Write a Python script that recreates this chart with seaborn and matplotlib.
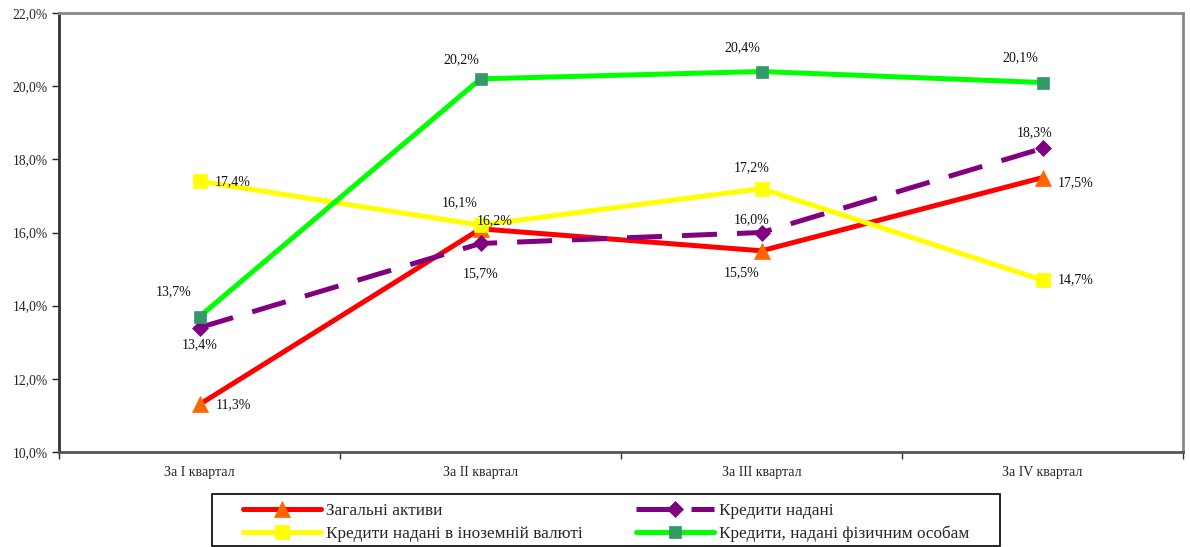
import matplotlib
matplotlib.use("Agg")
import matplotlib.pyplot as plt
import seaborn as sns
import pandas as pd
from matplotlib.patches import Rectangle
from matplotlib.ticker import FixedLocator, FuncFormatter

# Quarterly figures, %
quarters = ["За I квартал", "За II квартал", "За III квартал", "За IV квартал"]
total_assets = [11.3, 16.1, 15.5, 17.5]
loans = [13.4, 15.7, 16.0, 18.3]
loans_fx = [17.4, 16.2, 17.2, 14.7]
loans_individuals = [13.7, 20.2, 20.4, 20.1]

names = [
    "Загальні активи",
    "Кредити надані",
    "Кредити надані в іноземній валюті",
    "Кредити, надані фізичним особам",
]

sns.set_theme(style="white")
plt.rcParams["font.family"] = ["Liberation Serif", "DejaVu Serif"]

W, H = 1190, 547
fig = plt.figure(figsize=(W / 100, H / 100), dpi=100)
ax = fig.add_axes([59 / W, 95 / H, 1124 / W, 439 / H])

frames = {
    names[0]: total_assets,
    names[1]: loans,
    names[2]: loans_fx,
    names[3]: loans_individuals,
}

# line style, marker, marker colour, label offsets (points) and alignment for each series
styles = {
    names[0]: dict(color="#FF0000", marker="^", mfc="#FF6600", ms=11, ls="-",
                   offs=[(12, 0, "left"), (-15, 19, "center"), (-14, -16, "center"), (11, -4, "left")]),
    names[1]: dict(color="#800080", marker="D", mfc="#800080", ms=8, ls=(0, (7, 4)),
                   offs=[(0, -12, "center"), (0, -22, "center"), (-7, 9, "center"), (-6, 11, "center")]),
    names[2]: dict(color="#FFFF00", marker="s", mfc="#FFFF00", ms=10.5, ls="-",
                   offs=[(11, 0, "left"), (10, 3, "center"), (-7, 15, "center"), (11, 0, "left")]),
    names[3]: dict(color="#00FF00", marker="s", mfc="#339966", ms=9, ls="-",
                   offs=[(-19, 18, "center"), (-14, 14, "center"), (-14, 17, "center"), (-16, 18, "center")]),
}

handles = {}
for name, vals in frames.items():
    st = styles[name]
    df = pd.DataFrame({"quarter": quarters, "value": vals})
    sns.lineplot(data=df, x="quarter", y="value", ax=ax, color=st["color"], lw=3.6,
                 marker=st["marker"], markersize=st["ms"], markerfacecolor=st["mfc"],
                 markeredgecolor=st["mfc"], markeredgewidth=0.5, linestyle=st["ls"],
                 sort=False)
    handles[name] = ax.lines[-1]
    for i, v in enumerate(vals):
        dx, dy, ha = st["offs"][i]
        ax.annotate(f"{v:.1f}%".replace(".", ","), (i, v), xytext=(dx, dy),
                    textcoords="offset points", ha=ha, va="center", fontsize=10,
                    color="#111111")

ax.set_xlim(-0.5, 3.5)
ax.set_ylim(10, 22)
ax.set_xlabel("")
ax.set_ylabel("")

ax.yaxis.set_major_locator(FixedLocator([10, 12, 14, 16, 18, 20, 22]))
ax.yaxis.set_major_formatter(FuncFormatter(lambda v, p: f"{v:.1f}%".replace(".", ",")))
ax.tick_params(axis="y", which="major", direction="out", length=5, width=1, color="#222222",
               labelsize=9.8, pad=3, left=True)
ax.set_xticks(range(len(quarters)))
ax.set_xticklabels(quarters)
ax.tick_params(axis="x", which="major", length=0, labelsize=10, pad=10)
ax.xaxis.set_minor_locator(FixedLocator([-0.5, 0.5, 1.5, 2.5, 3.5]))
ax.tick_params(axis="x", which="minor", direction="out", length=5, width=1, color="#333333",
               bottom=True)

for side in ["top", "right"]:
    ax.spines[side].set_color("#888888")
    ax.spines[side].set_linewidth(2)
ax.spines["left"].set_color("#333333")
ax.spines["left"].set_linewidth(2)
ax.spines["bottom"].set_color("#555555")
ax.spines["bottom"].set_linewidth(2)
ax.grid(False)

# legend box
fig.add_artist(Rectangle((212 / W, 1 / H), 788 / W, 52 / H, transform=fig.transFigure,
                         fill=False, edgecolor="black", linewidth=1.2))

order = [names[0], names[2], names[1], names[3]]
leg = fig.legend([handles[n] for n in order], order, ncol=2, loc="upper left",
                 bbox_to_anchor=(243 / W, 0.0, 726 / W, (H - 503) / H), mode="expand",
                 fontsize=12.4, handlelength=4.5, handletextpad=0.3, borderpad=0,
                 labelspacing=0.4, columnspacing=1.0, frameon=False, borderaxespad=0)

fig.savefig("out.png", dpi=100)
